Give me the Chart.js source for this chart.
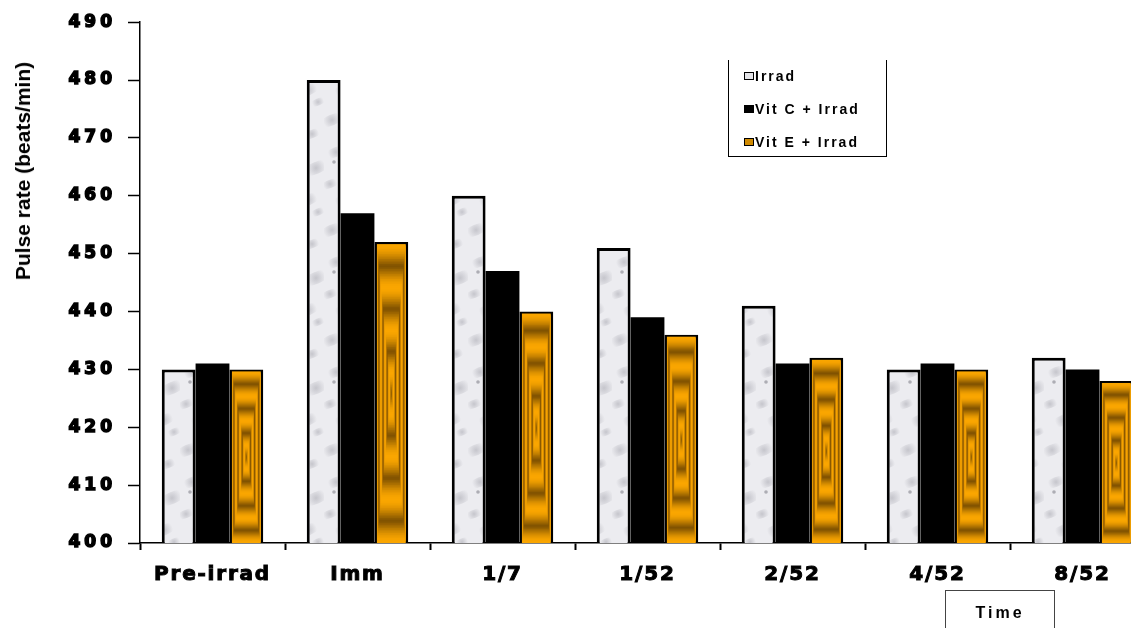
<!DOCTYPE html>
<html>
<head>
<meta charset="utf-8">
<script src="https://cdn.jsdelivr.net/npm/chart.js@4.4.0/dist/chart.umd.min.js"></script>
<style>
  html, body { margin: 0; padding: 0; width: 1131px; height: 628px; overflow: hidden; background: #fff; }
  #wrap { position: relative; width: 1160px; height: 628px; }
  #yTitle {
    position: absolute; left: 23px; top: 171px; transform: translate(-50%, -50%) rotate(-90deg);
    font: bold 21px "Liberation Sans", Arial, sans-serif; white-space: nowrap; color: #000;
  }
  #legend {
    position: absolute; left: 728px; top: 60px; width: 157px; height: 96px;
    border-left: 1.5px solid #000; border-right: 1.5px solid #000; border-bottom: 1.5px solid #000;
    font: bold 14px "Liberation Sans", Arial, sans-serif; letter-spacing: 2px; color: #000;
  }
  #legend div { position: absolute; left: 15px; white-space: nowrap; line-height: 16px; }
  #legend span { display: inline-block; width: 8px; height: 6px; margin-right: 1px; vertical-align: 1px; border: 1.5px solid #000; }
  #timeBox {
    position: absolute; left: 945px; top: 590px; width: 108px; height: 50px;
    border: 1.5px solid #444; font: bold 16px "Liberation Sans", Arial, sans-serif; letter-spacing: 3px;
    text-align: center; line-height: 44px;
  }
</style>
</head>
<body>
<div id="wrap">
  <canvas id="pulseChart" width="1160" height="628"></canvas>
  <div id="yTitle">Pulse rate (beats/min)</div>
  <div id="legend">
    <div style="top:8px"><span style="background:#e4e4e8"></span>Irrad</div>
    <div style="top:41px"><span style="background:#000"></span>Vit C + Irrad</div>
    <div style="top:74px"><span style="background:#d08a00"></span>Vit E + Irrad</div>
  </div>
  <div id="timeBox">Time</div>
</div>
<script>
const timeLabels = ['Pre-irrad', 'Imm', '1/7', '1/52', '2/52', '4/52', '8/52'];
const irrad = [430, 480, 460, 451, 441, 430, 432];
const vitCIrrad = [431, 457, 447, 439, 431, 431, 430];
const vitEIrrad = [430, 452, 440, 436, 432, 430, 428];
const yTicks = [400, 410, 420, 430, 440, 450, 460, 470, 480, 490];

// marble texture for the Irrad bars
function marblePattern() {
    const c = document.createElement('canvas');
    c.width = 36; c.height = 110;
    const g = c.getContext('2d');
    g.fillStyle = '#ececf0';
    g.fillRect(0, 0, c.width, c.height);
    const blots = [[8, 10, 9], [24, 24, 7], [12, 42, 8], [28, 58, 10], [6, 74, 7], [20, 90, 9], [30, 102, 6]];
    blots.forEach(([x, y, r]) => {
        const rg = g.createRadialGradient(x, y, 0, x, y, r);
        rg.addColorStop(0, 'rgba(150,150,160,0.45)');
        rg.addColorStop(1, 'rgba(150,150,160,0)');
        g.fillStyle = rg;
        g.beginPath(); g.ellipse(x, y, r * 1.6, r * 0.6, -0.4, 0, Math.PI * 2); g.fill();
    });
    g.fillStyle = 'rgba(110,110,120,0.5)';
    g.beginPath(); g.arc(10, 52, 1.8, 0, Math.PI * 2); g.fill();
    return g.createPattern(c, 'repeat');
}

// concentric gold rectangles drawn over the Vit E bars
const goldBars = {
    id: 'goldBars',
    afterDatasetsDraw(chart) {
        const ctx = chart.ctx;
        const area = chart.chartArea;
        const meta = chart.getDatasetMeta(2);
        meta.data.forEach(bar => {
            const p = bar.getProps(['x', 'y', 'base', 'width'], true);
            const left = p.x - p.width / 2 + 2.5, right = p.x + p.width / 2 - 2.5;
            const top = p.y + 2, bottom = Math.min(p.base, area.bottom);
            const w = right - left, h = bottom - top;
            const steps = 90;
            ctx.save();
            for (let i = 0; i < steps; i++) {
                const t = i / steps;
                const k = Math.pow(0.5 + 0.5 * Math.cos(t * Math.PI * 7), 0.6);
                const r = Math.round(128 + (250 - 128) * k);
                const gr = Math.round(82 + (166 - 82) * k);
                ctx.fillStyle = `rgb(${r},${gr},0)`;
                ctx.fillRect(left + t * w / 2, top + t * h / 2, w * (1 - t), h * (1 - t));
            }
            ctx.restore();
        });
    }
};

// wider letter spacing for each axis's labels
const spacing = {
    id: 'spacing',
    afterLayout(chart) {
        const gaps = { x: '1.8px', y: '4px' };
        Object.keys(gaps).forEach(id => {
            const scale = chart.scales[id];
            if (scale._spaced) return;
            const orig = scale.drawLabels;
            scale.drawLabels = function (area) {
                chart.ctx.letterSpacing = gaps[id];
                orig.call(this, area);
                chart.ctx.letterSpacing = '0px';
            };
            scale._spaced = true;
        });
    }
};

const ctx = document.getElementById('pulseChart').getContext('2d');
const chart = new Chart(ctx, {
    type: 'bar',
    data: {
        labels: timeLabels,
        datasets: [
            { label: 'Irrad', data: irrad, backgroundColor: marblePattern(), borderColor: '#000', borderWidth: 3, borderSkipped: 'bottom' },
            { label: 'Vit C + Irrad', data: vitCIrrad, backgroundColor: '#000', borderWidth: 0 },
            { label: 'Vit E + Irrad', data: vitEIrrad, backgroundColor: '#000', borderColor: '#000', borderWidth: 3, borderSkipped: 'bottom' }
        ]
    },
    options: {
        responsive: false,
        animation: false,
        barPercentage: 1,
        categoryPercentage: 0.7,
        layout: { padding: { top: 19, right: 5, left: 0, bottom: 0 } },
        plugins: { legend: { display: false }, tooltip: { enabled: false } },
        scales: {
            x: {
                grid: { drawOnChartArea: false, offset: true, tickLength: 7, color: '#000', tickWidth: 2 },
                border: { color: '#000', width: 1.5 },
                ticks: {
                    color: '#000', padding: 13, maxRotation: 0, textStrokeColor: '#000', textStrokeWidth: 1,
                    font: { family: 'DejaVu Sans', weight: 'bold', size: 20 }
                },
                afterFit(scale) { scale.height = 85; }
            },
            y: {
                min: 400,
                max: 490,
                afterBuildTicks(scale) { scale.ticks = yTicks.map(v => ({ value: v })); },
                grid: { drawOnChartArea: false, tickLength: 12, color: '#000', tickWidth: 1.5 },
                border: { color: '#000', width: 1.5 },
                ticks: {
                    color: '#000', padding: 12, textStrokeColor: '#000', textStrokeWidth: 1.5,
                    font: { family: 'DejaVu Sans', weight: 'bold', size: 17 }
                },
                afterFit(scale) { scale.width = 140; }
            }
        }
    },
    plugins: [goldBars, spacing]
});
</script>
</body>
</html>
